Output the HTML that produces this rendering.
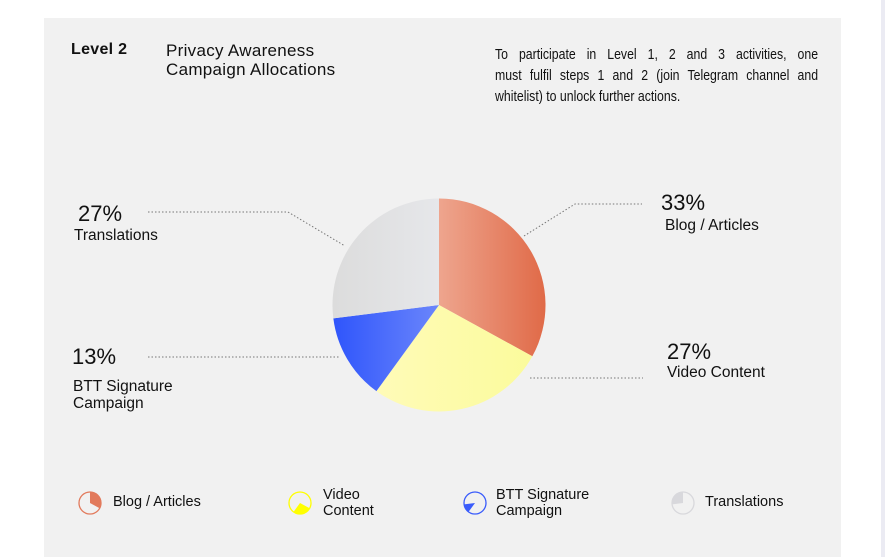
<!DOCTYPE html>
<html><head><meta charset="utf-8"><style>
body{margin:0;width:885px;height:557px;background:#fff;position:relative;overflow:hidden;font-family:"Liberation Sans",sans-serif;color:#111}
#stripe{position:absolute;left:881px;top:0;width:4px;height:557px;background:#ebebf3}
#panel{position:absolute;left:44px;top:18px;width:797px;height:539px;background:#f1f1f1}
.t{position:absolute;white-space:nowrap}
.dl{width:394px;text-align:justify;text-align-last:justify;height:21px;white-space:nowrap}
</style></head><body>
<div id="stripe"></div>
<div id="panel"></div>
<div class="t" style="left:71px;top:41px;font-size:16px;font-weight:bold;letter-spacing:0.3px">Level 2</div>
<div class="t" style="left:166px;top:41px;font-size:17px;line-height:19px;letter-spacing:0.3px">Privacy Awareness<br>Campaign Allocations</div>
<div style="position:absolute;left:495px;top:44px;width:394px;font-size:15px;line-height:21px;transform:scaleX(0.82);transform-origin:0 0">
<div class="dl">To participate in Level 1, 2 and 3 activities, one</div>
<div class="dl">must fulfil steps 1 and 2 (join Telegram channel and</div>
<div style="height:21px;white-space:nowrap">whitelist) to unlock further actions.</div>
</div>
<svg id="chart" width="885" height="557" style="position:absolute;left:0;top:0">
<defs>
<linearGradient id="g0" x1="0" x2="1"><stop offset="0" stop-color="#eea58e"/><stop offset="1" stop-color="#e06a48"/></linearGradient>
<linearGradient id="g1" x1="0" x2="1"><stop offset="0" stop-color="#fffbb8"/><stop offset="1" stop-color="#fbfb9c"/></linearGradient>
<linearGradient id="g2" x1="0" x2="1"><stop offset="0" stop-color="#2f55fb"/><stop offset="1" stop-color="#6b86fb"/></linearGradient>
<linearGradient id="g3" x1="0" x2="1"><stop offset="0" stop-color="#dcdcdc"/><stop offset="1" stop-color="#e6e7ea"/></linearGradient>
</defs>
<g id="leaders" stroke="#777" stroke-width="1" stroke-dasharray="1.5,2" fill="none">
<polyline points="524,236 575,204 642,204"/>
<polyline points="530,378 643,378"/>
<polyline points="148,357 340,357"/>
<polyline points="148,212 288,212 345,246"/>
</g>
<g id="slices"></g>
<g id="legend"></g>
</svg>
<div class="t" style="left:661px;top:190px;font-size:22px">33%</div>
<div class="t" style="left:665px;top:217px;font-size:15.5px">Blog / Articles</div>
<div class="t" style="left:667px;top:339px;font-size:22px">27%</div>
<div class="t" style="left:667px;top:364px;font-size:15.5px">Video Content</div>
<div class="t" style="left:78px;top:201px;font-size:22px">27%</div>
<div class="t" style="left:74px;top:227px;font-size:15.5px">Translations</div>
<div class="t" style="left:72px;top:344px;font-size:22px">13%</div>
<div class="t" style="left:73px;top:378px;font-size:15.5px;line-height:17px">BTT Signature<br>Campaign</div>
<div class="t" style="left:113px;top:494px;font-size:14.5px">Blog / Articles</div>
<div class="t" style="left:323px;top:487px;font-size:14.5px;line-height:16px">Video<br>Content</div>
<div class="t" style="left:496px;top:487px;font-size:14.5px;line-height:16px">BTT Signature<br>Campaign</div>
<div class="t" style="left:705px;top:494px;font-size:14.5px">Translations</div>
<script>
const categories=["Blog / Articles","Video Content","BTT Signature Campaign","Translations"];
const values=[33,27,13,27];
const fills=["url(#g0)","url(#g1)","url(#g2)","url(#g3)"];
const legendColors=["#e27a5c","#ffff00","#3a5cfb","#d8d8dc"];
const NS="http://www.w3.org/2000/svg";
function pt(cx,cy,r,a){return [cx+r*Math.sin(a),cy-r*Math.cos(a)];}
function arc(cx,cy,r,a0,a1){const p0=pt(cx,cy,r,a0),p1=pt(cx,cy,r,a1);const l=(a1-a0)>Math.PI?1:0;
return `M${cx},${cy}L${p0[0]},${p0[1]}A${r},${r} 0 ${l} 1 ${p1[0]},${p1[1]}Z`;}
const total=values.reduce((a,b)=>a+b,0);
const sg=document.getElementById('slices');
let acc=0;
values.forEach((v,i)=>{
 const a0=acc/total*2*Math.PI;acc+=v;const a1=acc/total*2*Math.PI;
 const p=document.createElementNS(NS,'path');
 p.setAttribute('d',arc(439,305,106.5,a0,a1));p.setAttribute('fill',fills[i]);
 
 
 sg.appendChild(p);
});
const lg=document.getElementById('legend');
const lx=[90,300,475,683];
acc=0;
values.forEach((v,i)=>{
 const a0=acc/total*2*Math.PI;acc+=v;const a1=acc/total*2*Math.PI;
 const c=document.createElementNS(NS,'circle');
 c.setAttribute('cx',lx[i]);c.setAttribute('cy',503);c.setAttribute('r',11);
 c.setAttribute('fill','none');c.setAttribute('stroke',legendColors[i]);c.setAttribute('stroke-width',1.3);
 
 
 lg.appendChild(c);
 const p=document.createElementNS(NS,'path');
 p.setAttribute('d',arc(lx[i],503,11,a0,a1));p.setAttribute('fill',legendColors[i]);
 
 
 lg.appendChild(p);
});
</script>
</body></html>
